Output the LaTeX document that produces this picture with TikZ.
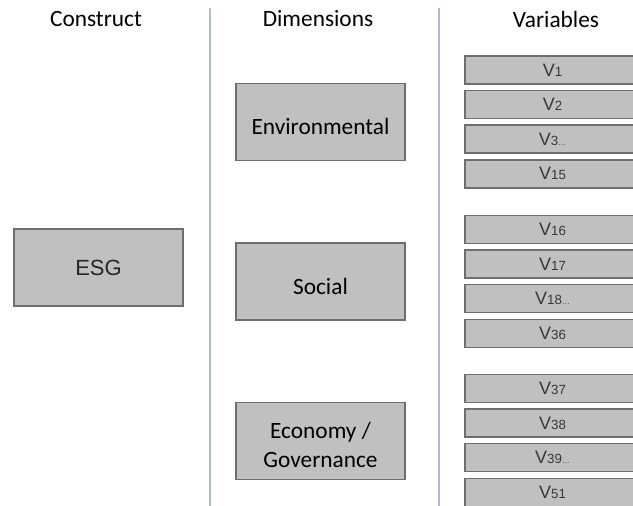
\documentclass[tikz,border=0pt]{standalone}
\usepackage{fontspec}
\setmainfont{Carlito}
\newfontfamily\arialfont{Liberation Sans}
\definecolor{boxfill}{RGB}{192,192,192}
\definecolor{boxline}{RGB}{110,110,110}
\definecolor{sepline}{RGB}{176,188,206}
\definecolor{vartext}{RGB}{56,56,56}
% variable name: big V, smaller index on the same baseline
\newcommand{\vname}[1]{V{\fontsize{10}{10}\selectfont #1}}
\newcommand{\vmore}{{\fontsize{6}{6}\selectfont\ldots}}
% taller first line, sets the box labels a bit lower
\newcommand{\dimstrut}{\rule{0pt}{1.08em}}

\begin{document}
\begin{tikzpicture}[x=0.75pt,y=0.75pt,yscale=-1,xscale=1,
    greybox/.style={draw=boxline,fill=boxfill,line width=1.1pt,inner sep=0pt},
    dimbox/.style={greybox,minimum width=126.75pt,minimum height=58pt,font=\fontsize{17.5}{21.75}\selectfont,align=center,execute at begin node=\dimstrut},
    esgbox/.style={greybox,minimum width=126.75pt,minimum height=58pt,font=\arialfont\fontsize{16.5}{18}\selectfont,text=black!85},
    varbox/.style={greybox,minimum width=131.25pt,minimum height=21pt,font=\arialfont\fontsize{13.5}{14}\selectfont,text=vartext},
    heading/.style={font=\fontsize{17.5}{21}\selectfont,inner sep=0pt,anchor=base}]
    \fill[white] (0,0) rectangle (633,506);
    \clip (0,0) rectangle (633,506);

    %Straight Lines
    \draw [color=sepline,line width=1.5]    (210,8) -- (210,506) ;
    %Straight Lines
    \draw [color=sepline,line width=1.5]    (439,8) -- (439,506) ;

    %Text Nodes
    \node [heading] (construct) at (96,27) {Construct};
    \node [heading] (dimensions) at (318,27) {Dimensions};
    \node [heading] (variables) at (556,28) {Variables};

    %Shape: Rectangle
    \node [esgbox] (esg) at (98.5,267.5) {ESG};

    %Shape: Rectangle
    \node [dimbox] (environmental) at (320.5,122) {Environmental};
    \node [dimbox] (social) at (320.5,281.5) {Social};
    \node [dimbox] (governance) at (320.5,441) {\rule{0pt}{1em}Economy /\\Governance};

    %Shape: Rectangle
    \node [varbox] (v1) at (552.5,70) {\vname{1}};
    \node [varbox] (v2) at (552.5,104.6) {\vname{2}};
    \node [varbox] (v3) at (552.5,139.2) {\vname{3\vmore}};
    \node [varbox] (v15) at (552.5,173.8) {\vname{15}};
    %Shape: Rectangle
    \node [varbox] (v16) at (552.5,229.5) {\vname{16}};
    \node [varbox] (v17) at (552.5,264.1) {\vname{17}};
    \node [varbox] (v18) at (552.5,298.7) {\vname{18\vmore}};
    \node [varbox] (v36) at (552.5,333.3) {\vname{36}};
    %Shape: Rectangle
    \node [varbox] (v37) at (552.5,388.5) {\vname{37}};
    \node [varbox] (v38) at (552.5,423.1) {\vname{38}};
    \node [varbox] (v39) at (552.5,457.7) {\vname{39\vmore}};
    \node [varbox] (v51) at (552.5,492.3) {\vname{51}};
\end{tikzpicture}
\end{document}
